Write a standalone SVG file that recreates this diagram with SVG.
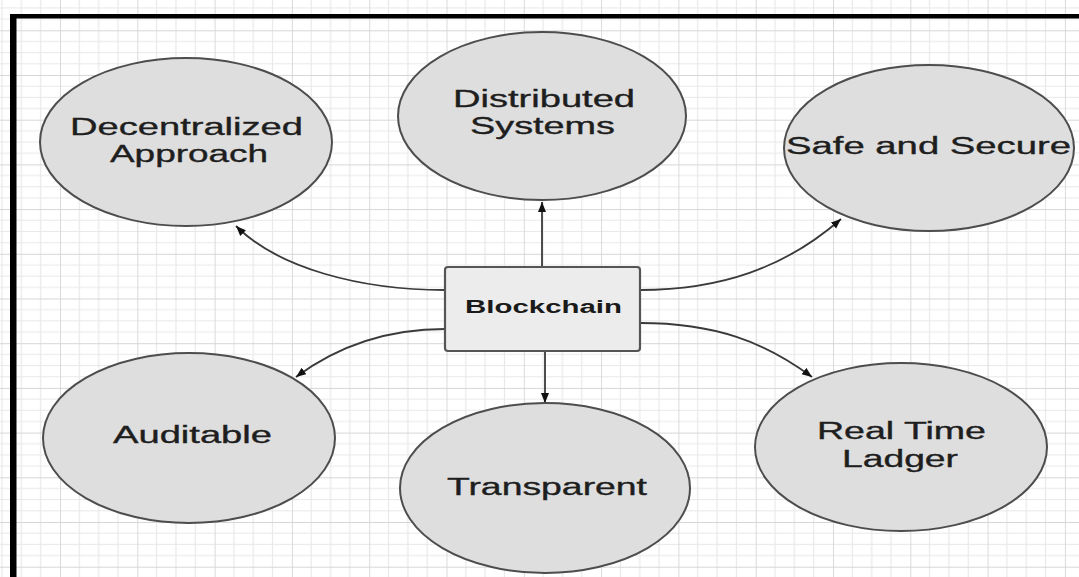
<svg xmlns="http://www.w3.org/2000/svg" width="1079" height="577" viewBox="0 0 1079 577">
  <style>
    .bubble { fill: #dedede; stroke: #4d4d4d; stroke-width: 2; }
    .hub { fill: #ececec; stroke: #555555; stroke-width: 2.2; }
    .label { font-family: "Liberation Sans", Arial, sans-serif; font-size: 23px; fill: #1e1e1e; stroke: #1e1e1e; stroke-width: 0.35; text-anchor: middle; }
    .hub-label { font-family: "Liberation Sans", Arial, sans-serif; font-size: 18px; font-weight: bold; fill: #1a1a1a; text-anchor: middle; }
    .link { fill: none; stroke: #3a3a3a; stroke-width: 1.8; marker-end: url(#arrow); }
  </style>
  <defs>
    <pattern id="grid" patternUnits="userSpaceOnUse" x="60" y="75" width="77.3" height="44.7">
      <g stroke="#e8e8e8" stroke-width="1.2">
        <line x1="19.325" y1="0" x2="19.325" y2="44.7"/>
        <line x1="38.65" y1="0" x2="38.65" y2="44.7"/>
        <line x1="57.975" y1="0" x2="57.975" y2="44.7"/>
        <line x1="0" y1="11.175" x2="77.3" y2="11.175"/>
        <line x1="0" y1="22.35" x2="77.3" y2="22.35"/>
        <line x1="0" y1="33.525" x2="77.3" y2="33.525"/>
      </g>
      <g stroke="#d6d6d6" stroke-width="1.8">
        <line x1="0" y1="0" x2="0" y2="44.7"/>
        <line x1="0" y1="0" x2="77.3" y2="0"/>
      </g>
    </pattern>
    <marker id="arrow" markerUnits="userSpaceOnUse" markerWidth="12" markerHeight="10" refX="10" refY="4" orient="auto">
      <path d="M0,0 L10,4 L0,8 Z" fill="#111111"/>
    </marker>
  </defs>

  <!-- canvas -->
  <rect x="0" y="0" width="1079" height="577" fill="#ffffff"/>
  <rect x="0" y="0" width="1079" height="577" fill="url(#grid)"/>

  <!-- frame -->
  <g id="frame" fill="#000000">
    <rect x="10" y="14" width="1069" height="4.5"/>
    <rect x="10" y="14" width="6.5" height="563"/>
  </g>

  <!-- connectors -->
  <g id="connectors">
    <path class="link" d="M445,290 C360,290 278,268 236,226"/>
    <line class="link" x1="542" y1="267" x2="542" y2="202"/>
    <path class="link" d="M640,290 C720,290 785,268 841,219"/>
    <path class="link" d="M445,329 C385,329 335,348 296,377"/>
    <line class="link" x1="545" y1="351" x2="545" y2="403"/>
    <path class="link" d="M640,323 C715,323 765,342 812,377"/>
  </g>

  <g id="decentralized">
    <ellipse class="bubble" cx="186" cy="142" rx="146" ry="84"/>
    <text class="label" x="186.5" y="135" textLength="233" lengthAdjust="spacingAndGlyphs">Decentralized</text>
    <text class="label" x="189" y="162" textLength="158" lengthAdjust="spacingAndGlyphs">Approach</text>
  </g>

  <g id="distributed">
    <ellipse class="bubble" cx="542" cy="116" rx="144" ry="84"/>
    <text class="label" x="544" y="107" textLength="182" lengthAdjust="spacingAndGlyphs">Distributed</text>
    <text class="label" x="542.5" y="134" textLength="145" lengthAdjust="spacingAndGlyphs">Systems</text>
  </g>

  <g id="safe-secure">
    <ellipse class="bubble" cx="929" cy="148" rx="145" ry="83"/>
    <text class="label" x="928.5" y="154" textLength="285" lengthAdjust="spacingAndGlyphs">Safe and Secure</text>
  </g>

  <g id="blockchain">
    <rect class="hub" x="445" y="267" width="195" height="84" rx="3"/>
    <text class="hub-label" x="543.5" y="313" textLength="157" lengthAdjust="spacingAndGlyphs">Blockchain</text>
  </g>

  <g id="auditable">
    <ellipse class="bubble" cx="189" cy="438" rx="146" ry="85"/>
    <text class="label" x="192.5" y="443" textLength="159" lengthAdjust="spacingAndGlyphs">Auditable</text>
  </g>

  <g id="transparent">
    <ellipse class="bubble" cx="545" cy="488" rx="145" ry="85"/>
    <text class="label" x="547" y="495" textLength="200" lengthAdjust="spacingAndGlyphs">Transparent</text>
  </g>

  <g id="real-time-ledger">
    <ellipse class="bubble" cx="901" cy="447" rx="146" ry="84"/>
    <text class="label" x="901.5" y="439" textLength="169" lengthAdjust="spacingAndGlyphs">Real Time</text>
    <text class="label" x="900" y="467" textLength="116" lengthAdjust="spacingAndGlyphs">Ladger</text>
  </g>
</svg>
